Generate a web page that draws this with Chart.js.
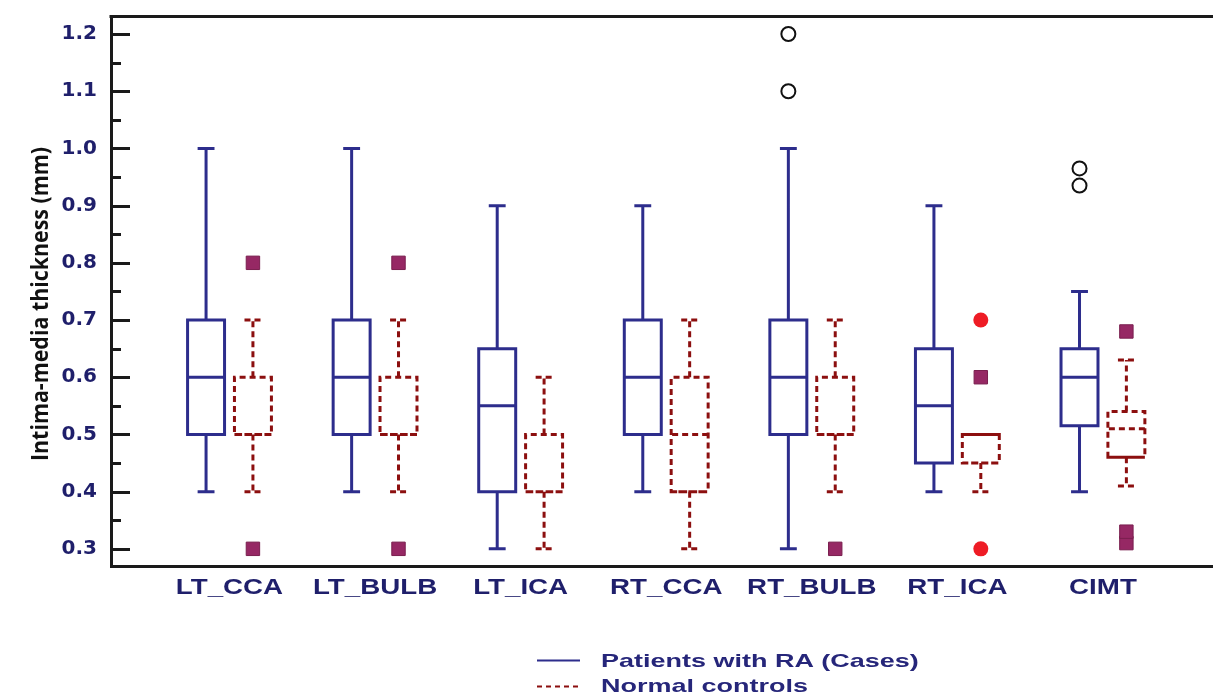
<!DOCTYPE html>
<html>
<head>
<meta charset="utf-8">
<script src="https://cdn.jsdelivr.net/npm/chart.js@4.4.1/dist/chart.umd.min.js"></script>
<style>
  html, body { margin: 0; padding: 0; background: #fff; }
  canvas { display: block; }
</style>
</head>
<body>
<canvas id="myChart" width="1213" height="696" style="width:1213px;height:696px"></canvas>
<script>
// Box plot data (mm)
const categories = ["LT_CCA", "LT_BULB", "LT_ICA", "RT_CCA", "RT_BULB", "RT_ICA", "CIMT"];

// Patients with RA (cases)
const caseMin = [0.4, 0.4, 0.3, 0.4, 0.3, 0.4, 0.4];
const caseQ1 = [0.5, 0.5, 0.4, 0.5, 0.5, 0.45, 0.515];
const caseMedian = [0.6, 0.6, 0.55, 0.6, 0.6, 0.55, 0.6];
const caseQ3 = [0.7, 0.7, 0.65, 0.7, 0.7, 0.65, 0.65];
const caseMax = [1.0, 1.0, 0.9, 0.9, 1.0, 0.9, 0.75];
const caseOutliers = [[], [], [], [], [1.1, 1.2], [], [0.935, 0.965]];

// Normal controls
const ctrlMin = [0.4, 0.4, 0.3, 0.3, 0.4, 0.4, 0.41];
const ctrlQ1 = [0.5, 0.5, 0.4, 0.4, 0.5, 0.45, 0.46];
const ctrlMedian = [0.5, 0.5, 0.4, 0.5, 0.5, 0.5, 0.51];
const ctrlQ3 = [0.6, 0.6, 0.5, 0.6, 0.6, 0.5, 0.54];
const ctrlMax = [0.7, 0.7, 0.6, 0.7, 0.7, 0.5, 0.63];
const ctrlOutliers = [[0.3, 0.8], [0.3, 0.8], [], [], [0.3], [0.6], [0.31, 0.33, 0.68]];
const ctrlExtremes = [[], [], [], [], [], [0.3, 0.7], []];

const yTicks = [0.3, 0.4, 0.5, 0.6, 0.7, 0.8, 0.9, 1.0, 1.1, 1.2];
const yMinorTicks = [0.35, 0.45, 0.55, 0.65, 0.75, 0.85, 0.95, 1.05, 1.15];

const BLUE = "#2d2d8c";
const RED = "#8c0f0f";
const NAVY = "#1f1f6b";

// box geometry in category units
const X_OFF = 0.161;
const HALF = 0.127;
const CAP = 0.058;

function buildBoxes(side, lo, q1, med, q3, hi) {
  const pts = [];
  categories.forEach((c, i) => {
    const cx = i + 1 + side * X_OFF;
    const l = cx - HALF, r = cx + HALF;
    const seg = (arr) => { pts.push(...arr); pts.push({ x: cx, y: null }); };
    seg([{ x: l, y: q1[i] }, { x: r, y: q1[i] }, { x: r, y: q3[i] }, { x: l, y: q3[i] }, { x: l, y: q1[i] }, { x: r, y: q1[i] }]);
    seg([{ x: r, y: med[i] }, { x: l, y: med[i] }]);
    if (hi[i] > q3[i]) {
      seg([{ x: cx, y: q3[i] }, { x: cx, y: hi[i] }]);
      seg([{ x: cx - CAP, y: hi[i] }, { x: cx + CAP, y: hi[i] }]);
    }
    if (lo[i] < q1[i]) {
      seg([{ x: cx, y: q1[i] }, { x: cx, y: lo[i] }]);
      seg([{ x: cx - CAP, y: lo[i] }, { x: cx + CAP, y: lo[i] }]);
    }
  });
  return pts;
}

function buildPoints(side, lists) {
  const pts = [];
  lists.forEach((vals, i) => vals.forEach((v) => pts.push({ x: i + 1 + side * X_OFF, y: v })));
  return pts;
}

function stretchText(ctx, text, x, y, sx, align) {
  ctx.save();
  ctx.translate(x, y);
  ctx.scale(sx, 1);
  ctx.textAlign = align;
  ctx.fillText(text, 0, 0);
  ctx.restore();
}

const decorations = {
  id: "decorations",
  afterDraw(chart) {
    const { ctx, chartArea, scales } = chart;
    const ys = scales.y, xs = scales.x;
    ctx.save();
    // top frame line
    ctx.strokeStyle = "#1a1a1a";
    ctx.lineWidth = 3;
    ctx.beginPath();
    ctx.moveTo(chartArea.left - 1.5, chartArea.top + 0.5);
    ctx.lineTo(chartArea.right, chartArea.top + 0.5);
    ctx.stroke();
    // inward tick marks
    ctx.beginPath();
    yTicks.forEach((v) => {
      const y = Math.round(ys.getPixelForValue(v)) + 0.5;
      ctx.moveTo(chartArea.left, y);
      ctx.lineTo(chartArea.left + 19, y);
    });
    yMinorTicks.forEach((v) => {
      const y = Math.round(ys.getPixelForValue(v)) + 0.5;
      ctx.moveTo(chartArea.left, y);
      ctx.lineTo(chartArea.left + 10, y);
    });
    ctx.stroke();

    // category labels
    ctx.fillStyle = NAVY;
    ctx.font = "bold 22px 'Liberation Sans', Arial, sans-serif";
    ctx.textBaseline = "alphabetic";
    categories.forEach((c, i) => {
      stretchText(ctx, c, xs.getPixelForValue(i + 1), chartArea.bottom + 28, 1.26, "center");
    });

    // y axis title
    ctx.save();
    ctx.fillStyle = "#111";
    ctx.font = "bold 23px 'Open Sans', sans-serif";
    ctx.textAlign = "center";
    ctx.textBaseline = "middle";
    ctx.translate(41, 304);
    ctx.rotate(-Math.PI / 2);
    ctx.scale(0.93, 1);
    ctx.fillText("Intima-media thickness (mm)", 0, 0);
    ctx.restore();

    // legend
    ctx.lineWidth = 2;
    ctx.strokeStyle = BLUE;
    ctx.beginPath();
    ctx.moveTo(537, 660.5);
    ctx.lineTo(580, 660.5);
    ctx.stroke();
    ctx.strokeStyle = RED;
    ctx.setLineDash([5, 4]);
    ctx.beginPath();
    ctx.moveTo(537, 686.5);
    ctx.lineTo(580, 686.5);
    ctx.stroke();
    ctx.setLineDash([]);
    ctx.fillStyle = "#26267a";
    ctx.font = "bold 19px 'Liberation Sans', Arial, sans-serif";
    stretchText(ctx, "Patients with RA (Cases)", 601, 667, 1.42, "left");
    stretchText(ctx, "Normal controls", 601, 692, 1.42, "left");
    ctx.restore();
  },
};

const lineStyle = {
  type: "line",
  pointRadius: 0,
  pointHitRadius: 0,
  borderWidth: 3,
  fill: false,
  tension: 0,
  spanGaps: false,
  borderJoinStyle: "miter",
  borderCapStyle: "butt",
};

const ctx = document.getElementById("myChart");

new Chart(ctx, {
  type: "line",
  data: {
    datasets: [
      {
        ...lineStyle,
        label: "Patients with RA (Cases)",
        data: buildBoxes(-1, caseMin, caseQ1, caseMedian, caseQ3, caseMax),
        borderColor: BLUE,
      },
      {
        ...lineStyle,
        label: "Normal controls",
        data: buildBoxes(1, ctrlMin, ctrlQ1, ctrlMedian, ctrlQ3, ctrlMax),
        borderColor: RED,
        borderDash: [6, 4],
      },
      {
        type: "line",
        showLine: false,
        label: "Case outliers",
        data: buildPoints(-1, caseOutliers),
        pointStyle: "circle",
        pointRadius: 7,
        pointBorderWidth: 2,
        pointBorderColor: "#111",
        pointBackgroundColor: "#fff",
      },
      {
        type: "line",
        showLine: false,
        label: "Control outliers",
        data: buildPoints(1, ctrlOutliers),
        pointStyle: "rect",
        pointRadius: 9.5,
        pointBorderWidth: 1,
        pointBorderColor: "#7a1f4f",
        pointBackgroundColor: "#962864",
      },
      {
        type: "line",
        showLine: false,
        label: "Control extremes",
        data: buildPoints(1, ctrlExtremes),
        pointStyle: "circle",
        pointRadius: 7.5,
        pointBorderWidth: 0,
        pointBackgroundColor: "#ee1c25",
      },
    ],
  },
  options: {
    responsive: false,
    devicePixelRatio: 1,
    animation: false,
    events: [],
    layout: { autoPadding: false, padding: { top: 16, left: 0, right: 0, bottom: 0 } },
    plugins: {
      legend: { display: false },
      tooltip: { enabled: false },
    },
    scales: {
      x: {
        type: "linear",
        min: 0.186,
        max: 7.756,
        ticks: { display: false },
        grid: { display: false, drawTicks: false },
        border: { display: true, color: "#1a1a1a", width: 3 },
        afterFit: (s) => { s.height = 130; s.paddingLeft = 0; s.paddingRight = 0; },
      },
      y: {
        type: "linear",
        min: 0.27,
        max: 1.2315,
        grid: { display: false, drawTicks: false },
        border: { display: true, color: "#1a1a1a", width: 3 },
        afterBuildTicks: (s) => { s.ticks = yTicks.map((v) => ({ value: v })); },
        afterFit: (s) => { s.width = 111; s.paddingTop = 0; s.paddingBottom = 0; },
        ticks: {
          padding: 14,
          color: NAVY,
          font: { family: "'DejaVu Sans', sans-serif", weight: "bold", size: 20 },
          callback: (v) => v.toFixed(1),
        },
      },
    },
  },
  plugins: [decorations],
});
</script>
</body>
</html>
